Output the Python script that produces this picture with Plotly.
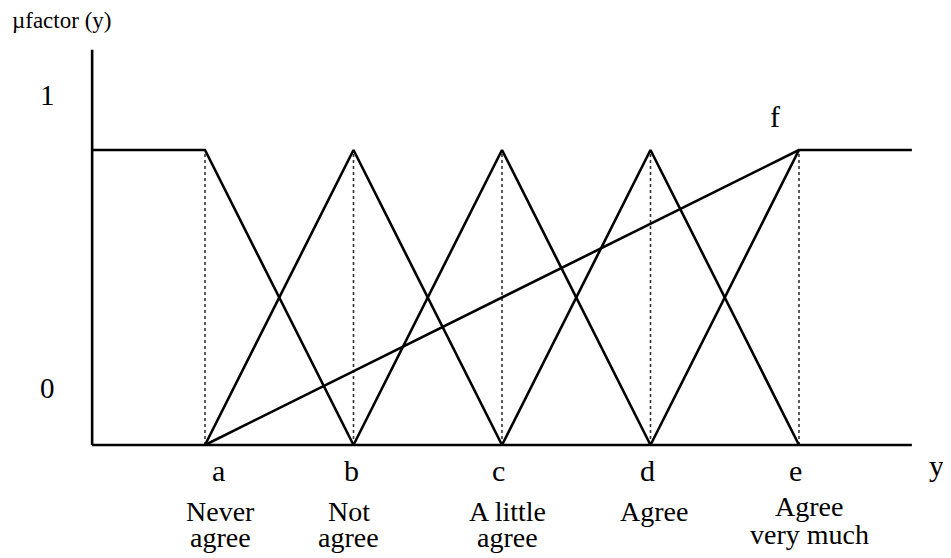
import plotly.graph_objects as go

# category points on the y axis (a..e) and their labels
points = [1, 2, 3, 4, 5]
letters = ["a", "b", "c", "d", "e"]
labels = [("Never", "agree"), ("Not", "agree"), ("A little", "agree"),
          ("Agree", ""), ("Agree", "very much")]

# axis extents (data units)
x_start = 0.24
x_end = 5.76
y_top = 1.34

# membership functions (x, mu)
mf_x = [
    [x_start, 1, 2],
    [1, 2, 3],
    [2, 3, 4],
    [3, 4, 5],
    [4, 5, x_end],
]
mf_y = [
    [1, 1, 0],
    [0, 1, 0],
    [0, 1, 0],
    [0, 1, 0],
    [0, 1, 1],
]
# straight line from a up to f
diag_x = [1, 5]
diag_y = [0, 1]

FONT = "Liberation Serif"
# page body has an 8px margin, compensate in the axis ranges
OFF = 8
XS = 148.5  # px per unit on x
YS = 295.0  # px per unit on y
x_lo = 1 - (205 - OFF) / XS
y_hi = (445 - OFF) / YS

# small horizontal nudges (px) of the texts under the axis, as in the original
letter_shift = [13, -2, -4, -3, -4]
label_shift = [15, -5, 5, 3, 10]

fig = go.Figure()

# dotted guides at a..e
for p in points:
    fig.add_trace(go.Scatter(x=[p, p], y=[0, 1], mode="lines",
                             line=dict(color="#333", width=1.6, dash="dot"),
                             hoverinfo="skip"))

for xs, ys in zip(mf_x, mf_y):
    fig.add_trace(go.Scatter(x=xs, y=ys, mode="lines",
                             line=dict(color="black", width=2.6)))
fig.add_trace(go.Scatter(x=diag_x, y=diag_y, mode="lines",
                         line=dict(color="black", width=2.6)))

# axes
fig.add_trace(go.Scatter(x=[x_start, x_end], y=[0, 0], mode="lines",
                         line=dict(color="black", width=2.6)))
fig.add_trace(go.Scatter(x=[x_start, x_start], y=[0, y_top], mode="lines",
                         line=dict(color="black", width=2.6)))

# letters and labels below the axis
for p, let, (l1, l2), ls, bs in zip(points, letters, labels,
                                     letter_shift, label_shift):
    fig.add_annotation(x=p, y=-0.085, text=let, showarrow=False, xshift=ls,
                       font=dict(family=FONT, size=30, color="black"))
    dy = 0.015 if let == "e" else 0
    fig.add_annotation(x=p, y=-0.225 + dy, text=l1, showarrow=False,
                       xshift=bs,
                       font=dict(family=FONT, size=28, color="black"))
    if l2:
        fig.add_annotation(x=p, y=-0.312 + dy / 2, text=l2, showarrow=False,
                           xshift=bs,
                           font=dict(family=FONT, size=28, color="black"))

fig.add_annotation(x=-0.064, y=1.186, text="1", showarrow=False,
                   font=dict(family=FONT, size=29, color="black"))
fig.add_annotation(x=-0.064, y=0.193, text="0", showarrow=False,
                   font=dict(family=FONT, size=29, color="black"))
fig.add_annotation(x=4.838, y=1.112, text="f", showarrow=False,
                   font=dict(family=FONT, size=30, color="black"))
fig.add_annotation(x=5.925, y=-0.068, text="y", showarrow=False,
                   font=dict(family=FONT, size=30, color="black"))
fig.add_annotation(x=-0.313, y=1.44, text="µfactor (y)", showarrow=False,
                   xanchor="left",
                   font=dict(family=FONT, size=23, color="black"))

fig.update_layout(
    width=951, height=558,
    margin=dict(l=0, r=0, t=0, b=0),
    plot_bgcolor="white", paper_bgcolor="white",
    showlegend=False,
    xaxis=dict(range=[x_lo, x_lo + 951 / XS], visible=False),
    yaxis=dict(range=[y_hi - 558 / YS, y_hi], visible=False),
)

fig.write_html("out.html")
